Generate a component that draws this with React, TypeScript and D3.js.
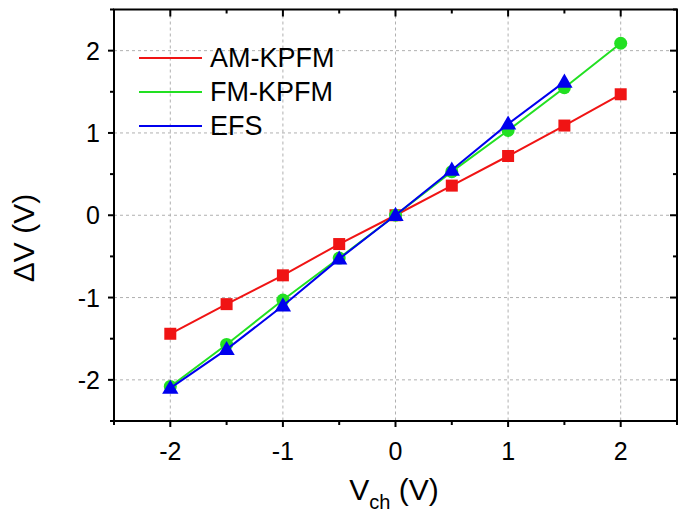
import React from "react";
import * as d3 from "d3";

const vch = [-2, -1.5, -1, -0.5, 0, 0.5, 1, 1.5, 2];
const amKpfm = [-1.44, -1.08, -0.73, -0.35, 0, 0.36, 0.72, 1.09, 1.47];
const fmKpfm = [-2.08, -1.57, -1.03, -0.52, 0, 0.53, 1.03, 1.55, 2.09];
const efsX = [-2, -1.5, -1, -0.5, 0, 0.5, 1, 1.5];
const efs = [-2.1, -1.63, -1.1, -0.53, 0, 0.55, 1.11, 1.62];
const majorTicks = [-2, -1, 0, 1, 2];
const minorTicks = [-2.5, -1.5, -0.5, 0.5, 1.5, 2.5];
const legendLabels = ["AM-KPFM", "FM-KPFM", "EFS"];

const W = 685, H = 520;
const L = 114, R = 677, T = 9.5, B = 421;
const RED = "#f01414", GREEN = "#22e022", BLUE = "#0000ee";
const FONT = "'Liberation Sans', Arial, sans-serif";

export default function App() {
  const x = d3.scaleLinear().domain([-2.5, 2.5]).range([L, R]);
  const y = d3.scaleLinear().domain([-2.5, 2.5]).range([B, T]);
  const line = d3.line<[number, number]>().x(d => x(d[0])).y(d => y(d[1]));
  const am: [number, number][] = vch.map((v, i) => [v, amKpfm[i]]);
  const fm: [number, number][] = vch.map((v, i) => [v, fmKpfm[i]]);
  const ef: [number, number][] = efsX.map((v, i) => [v, efs[i]]);
  const tri = d3.symbol().type(d3.symbolTriangle).size(115)();
  const colors = [RED, GREEN, BLUE];

  return (
    <svg width={W} height={H} style={{ position: "absolute", left: 0, top: 0, background: "#fff" }}>
      <rect x={0} y={0} width={W} height={H} fill="#fff" />
      {/* grid */}
      {majorTicks.map(t => (
        <line key={"gx" + t} x1={x(t)} x2={x(t)} y1={T} y2={B} stroke="#b0b0b0" strokeWidth={1} strokeDasharray="3,3" />
      ))}
      {majorTicks.map(t => (
        <line key={"gy" + t} x1={L} x2={R} y1={y(t)} y2={y(t)} stroke="#b0b0b0" strokeWidth={1} strokeDasharray="3,3" />
      ))}
      {/* series */}
      <path d={line(am) || ""} fill="none" stroke={RED} strokeWidth={2} />
      {am.map((d, i) => (
        <rect key={"am" + i} x={x(d[0]) - 6} y={y(d[1]) - 6} width={12} height={12} fill={RED} />
      ))}
      <path d={line(fm) || ""} fill="none" stroke={GREEN} strokeWidth={2} />
      {fm.map((d, i) => (
        <circle key={"fm" + i} cx={x(d[0])} cy={y(d[1])} r={6.5} fill={GREEN} />
      ))}
      <path d={line(ef) || ""} fill="none" stroke={BLUE} strokeWidth={2} />
      {ef.map((d, i) => (
        <path key={"ef" + i} d={tri || ""} transform={`translate(${x(d[0])},${y(d[1]) + 1})`} fill={BLUE} />
      ))}
      {/* axes frame */}
      <rect x={L} y={T} width={R - L} height={B - T} fill="none" stroke="#000" strokeWidth={2} />
      {/* ticks */}
      {majorTicks.map(t => (
        <g key={"mt" + t}>
          <line x1={x(t)} x2={x(t)} y1={B} y2={B + 6} stroke="#000" strokeWidth={2} />
          <line x1={x(t)} x2={x(t)} y1={T} y2={T + 7} stroke="#000" strokeWidth={2} />
          <line x1={L - 6} x2={L} y1={y(t)} y2={y(t)} stroke="#000" strokeWidth={2} />
          <line x1={R - 7} x2={R} y1={y(t)} y2={y(t)} stroke="#000" strokeWidth={2} />
        </g>
      ))}
      {minorTicks.map(t => (
        <g key={"mn" + t}>
          <line x1={x(t)} x2={x(t)} y1={B} y2={B + 4} stroke="#000" strokeWidth={2} />
          <line x1={x(t)} x2={x(t)} y1={T} y2={T + 4} stroke="#000" strokeWidth={2} />
          <line x1={L - 4} x2={L} y1={y(t)} y2={y(t)} stroke="#000" strokeWidth={2} />
          <line x1={R - 4} x2={R} y1={y(t)} y2={y(t)} stroke="#000" strokeWidth={2} />
        </g>
      ))}
      {/* tick labels */}
      {majorTicks.map(t => (
        <text key={"xl" + t} x={x(t)} y={460} textAnchor="middle" fontFamily={FONT} fontSize={25} fill="#000">
          {t < 0 ? "-" + Math.abs(t) : String(t)}
        </text>
      ))}
      {majorTicks.map(t => (
        <text key={"yl" + t} x={100} y={y(t) + 9} textAnchor="end" fontFamily={FONT} fontSize={25} fill="#000">
          {t < 0 ? "-" + Math.abs(t) : String(t)}
        </text>
      ))}
      {/* axis titles */}
      <text x={394} y={500} textAnchor="middle" fontFamily={FONT} fontSize={30} fill="#000">
        V<tspan fontSize={20} dy={9}>ch</tspan><tspan dy={-9}> (V)</tspan>
      </text>
      <text transform={`translate(34,238) rotate(-90)`} textAnchor="middle" fontFamily={FONT} fontSize={30} fill="#000">
        ΔV (V)
      </text>
      {/* legend */}
      {legendLabels.map((lab, i) => (
        <g key={"lg" + i}>
          <line x1={139} x2={202} y1={58 + i * 34} y2={58 + i * 34} stroke={colors[i]} strokeWidth={2} />
          <text x={210} y={66.5 + i * 34} fontFamily={FONT} fontSize={27} fill="#000">{lab}</text>
        </g>
      ))}
    </svg>
  );
}
